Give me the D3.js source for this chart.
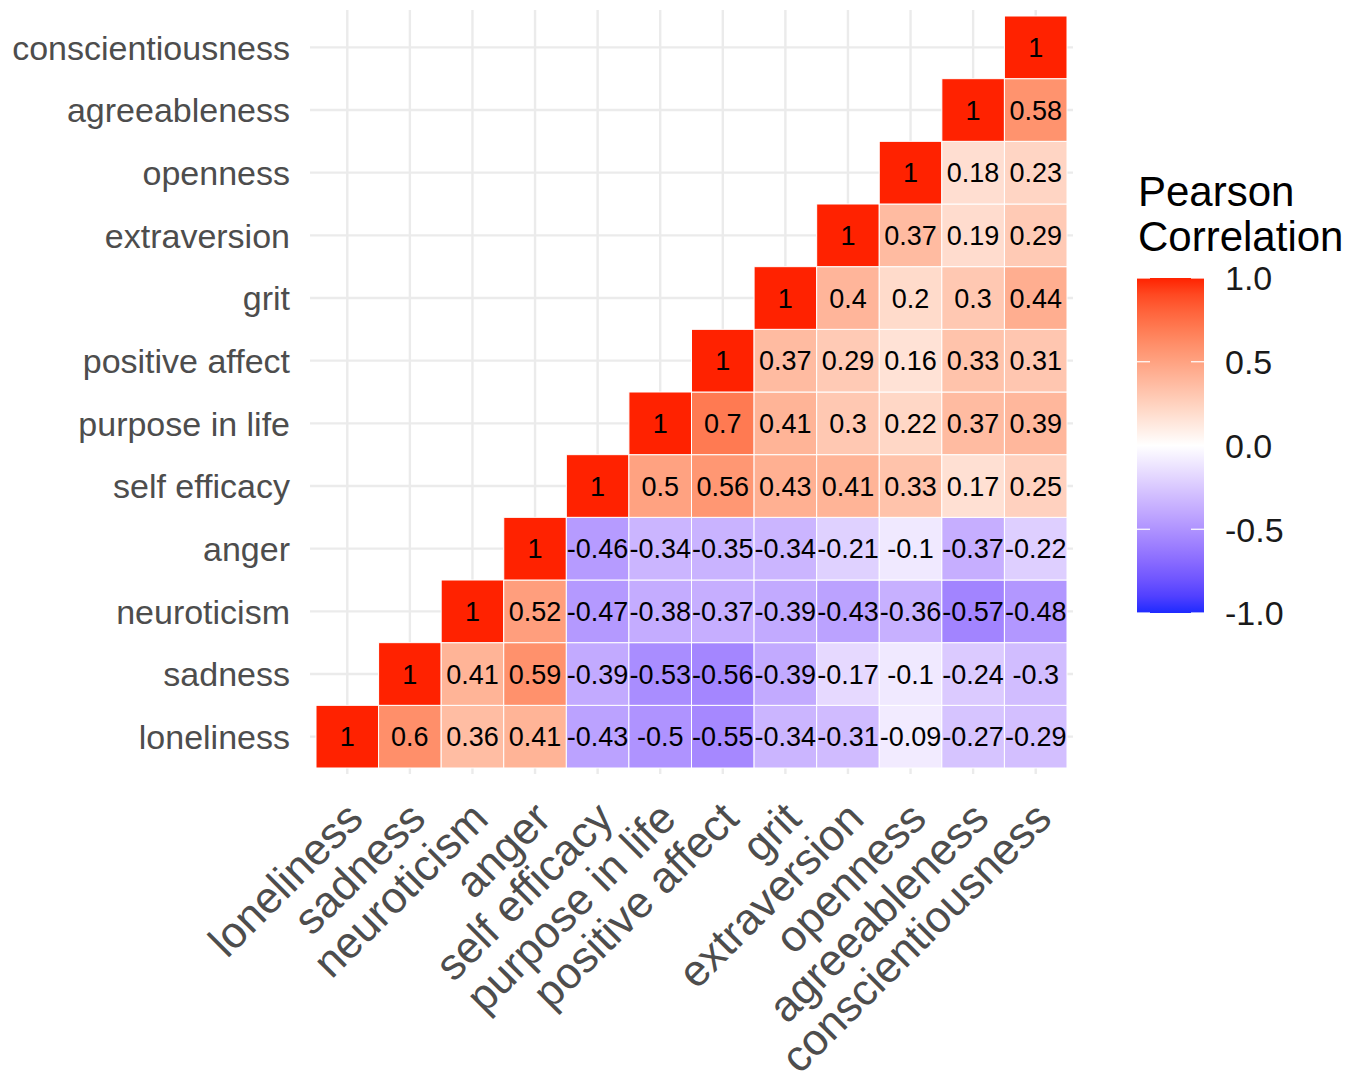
<!DOCTYPE html>
<html>
<head>
<meta charset="utf-8">
<script src="https://cdn.jsdelivr.net/npm/d3@7"></script>
<style>
  body { margin: 0; background: #fff; }
  svg { font-family: "Liberation Sans", Arial, Helvetica, sans-serif; }
</style>
</head>
<body>
<div id="chart"></div>
<script>
'use strict';

// variable order, bottom-to-top on y and left-to-right on x
var variables = ['loneliness', 'sadness', 'neuroticism', 'anger', 'self efficacy',
  'purpose in life', 'positive affect', 'grit', 'extraversion', 'openness',
  'agreeableness', 'conscientiousness'];

// each row starts at its own diagonal cell and runs to the right
var rowLoneliness = [1, 0.6, 0.36, 0.41, -0.43, -0.5, -0.55, -0.34, -0.31, -0.09, -0.27, -0.29];
var rowSadness = [1, 0.41, 0.59, -0.39, -0.53, -0.56, -0.39, -0.17, -0.1, -0.24, -0.3];
var rowNeuroticism = [1, 0.52, -0.47, -0.38, -0.37, -0.39, -0.43, -0.36, -0.57, -0.48];
var rowAnger = [1, -0.46, -0.34, -0.35, -0.34, -0.21, -0.1, -0.37, -0.22];
var rowSelfEfficacy = [1, 0.5, 0.56, 0.43, 0.41, 0.33, 0.17, 0.25];
var rowPurpose = [1, 0.7, 0.41, 0.3, 0.22, 0.37, 0.39];
var rowPositiveAffect = [1, 0.37, 0.29, 0.16, 0.33, 0.31];
var rowGrit = [1, 0.4, 0.2, 0.3, 0.44];
var rowExtraversion = [1, 0.37, 0.19, 0.29];
var rowOpenness = [1, 0.18, 0.23];
var rowAgreeableness = [1, 0.58];
var rowConscientiousness = [1];

var legendTicks = [1, 0.5, 0, -0.5, -1];

var rows = [rowLoneliness, rowSadness, rowNeuroticism, rowAnger, rowSelfEfficacy,
  rowPurpose, rowPositiveAffect, rowGrit, rowExtraversion, rowOpenness,
  rowAgreeableness, rowConscientiousness];

var cells = [];
rows.forEach(function(row, j) {
  row.forEach(function(v, k) {
    cells.push({x: variables[j + k], y: variables[j], value: v});
  });
});

var width = 1363, height = 1085;
var panel = {left: 310, right: 1073, top: 10, bottom: 774};

var svg = d3.select('#chart').append('svg')
    .attr('width', width)
    .attr('height', height);

svg.append('rect').attr('width', width).attr('height', height).attr('fill', '#fff');

var x = d3.scaleBand().domain(variables).range([316, 1067]);
var y = d3.scaleBand().domain(variables).range([768, 16]);
var bw = x.bandwidth(), bh = y.bandwidth();

var color = d3.scaleLinear()
    .domain([-1, 0, 1])
    .range(['#1e2aff', '#ffffff', '#ff2200'])
    .interpolate(d3.interpolateLab);

// grid
var grid = svg.append('g').attr('stroke', '#ebebeb').attr('stroke-width', 2.4);
grid.selectAll('.vgrid')
  .data(variables).enter().append('line')
    .attr('x1', function(d) {return x(d) + bw / 2})
    .attr('x2', function(d) {return x(d) + bw / 2})
    .attr('y1', panel.top)
    .attr('y2', panel.bottom);
grid.selectAll('.hgrid')
  .data(variables).enter().append('line')
    .attr('y1', function(d) {return y(d) + bh / 2})
    .attr('y2', function(d) {return y(d) + bh / 2})
    .attr('x1', panel.left)
    .attr('x2', panel.right);

// tiles
var cell = svg.append('g').selectAll('.cell')
  .data(cells).enter().append('g')
    .attr('class', 'cell')
    .attr('transform', function(d) {return 'translate(' + x(d.x) + ',' + y(d.y) + ')'});
cell.append('rect')
    .attr('width', bw)
    .attr('height', bh)
    .attr('fill', function(d) {return color(d.value)})
    .attr('stroke', '#fff')
    .attr('stroke-width', 1);
cell.append('text')
    .attr('x', bw / 2)
    .attr('y', bh / 2)
    .attr('dy', '0.36em')
    .attr('text-anchor', 'middle')
    .attr('font-size', 27)
    .attr('fill', '#000')
    .text(function(d) {return String(d.value)});

// y axis labels
svg.append('g').selectAll('text')
  .data(variables).enter().append('text')
    .attr('x', 290)
    .attr('y', function(d) {return y(d) + bh / 2})
    .attr('dy', '0.36em')
    .attr('text-anchor', 'end')
    .attr('font-size', 34)
    .attr('fill', '#4d4d4d')
    .text(function(d) {return d});

// x axis labels, rotated
svg.append('g').selectAll('text')
  .data(variables).enter().append('text')
    .attr('transform', function(d) {
      return 'translate(' + (x(d) + bw / 2 + 18) + ',' + 821 + ') rotate(-45)'; })
    .attr('text-anchor', 'end')
    .attr('font-size', 44)
    .attr('fill', '#4d4d4d')
    .text(function(d) {return d});

// legend
var legend = svg.append('g');
legend.append('text').attr('x', 1138).attr('y', 206).attr('font-size', 42).attr('fill', '#000').text('Pearson');
legend.append('text').attr('x', 1138).attr('y', 251).attr('font-size', 42).attr('fill', '#000').text('Correlation');

var ly = d3.scaleLinear().domain([-1, 1]).range([613, 278]);
var grad = svg.append('defs').append('linearGradient')
    .attr('id', 'corrGrad')
    .attr('x1', 0).attr('y1', 1).attr('x2', 0).attr('y2', 0);
grad.selectAll('stop')
  .data(d3.range(0, 1.0001, 0.05)).enter().append('stop')
    .attr('offset', function(d) {return d})
    .attr('stop-color', function(d) {return color(d * 2 - 1)});

legend.append('rect')
    .attr('x', 1137).attr('y', ly(1))
    .attr('width', 67).attr('height', ly(-1) - ly(1))
    .attr('fill', 'url(#corrGrad)');

var tick = legend.selectAll('.ltick')
  .data(legendTicks).enter().append('g')
    .attr('transform', function(d) {return 'translate(0,' + ly(d) + ')'});
tick.append('line').attr('x1', 1137).attr('x2', 1150).attr('stroke', '#fff').attr('stroke-width', 1.2);
tick.append('line').attr('x1', 1191).attr('x2', 1204).attr('stroke', '#fff').attr('stroke-width', 1.2);
tick.append('text')
    .attr('x', 1225)
    .attr('dy', '0.36em')
    .attr('font-size', 34)
    .attr('fill', '#1a1a1a')
    .text(function(d) {return d3.format('.1f')(d).replace('−', '-')});
</script>
</body>
</html>
